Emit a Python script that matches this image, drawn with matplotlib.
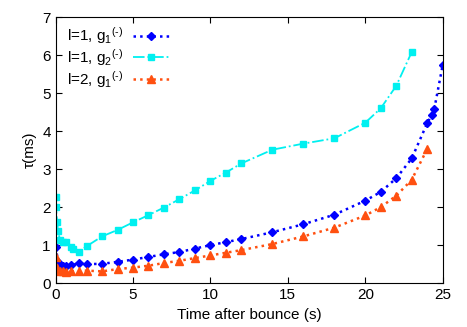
import numpy as np
import matplotlib
matplotlib.use("Agg")
import matplotlib.pyplot as plt

plt.rcParams['font.family'] = ['Liberation Sans', 'DejaVu Sans']
plt.rcParams['mathtext.fontset'] = 'custom'
plt.rcParams['mathtext.rm'] = 'Liberation Sans'
plt.rcParams['mathtext.it'] = 'Liberation Sans'

# l=1, g1 (-)
t_l1g1 = [0, 0.17, 0.3, 0.5, 0.7, 1.0, 1.5, 2, 3, 4, 5, 6, 7, 8, 9, 10, 11, 12,
          14, 16, 18, 20, 21, 22, 23, 24, 24.3, 24.45, 25]
tau_l1g1 = [0.95, 0.57, 0.48, 0.45, 0.45, 0.48, 0.52, 0.50, 0.51, 0.56, 0.62, 0.69,
            0.76, 0.82, 0.91, 1.00, 1.08, 1.16, 1.34, 1.55, 1.80, 2.17, 2.40, 2.76,
            3.28, 4.21, 4.43, 4.57, 5.74]

# l=1, g2 (-)
t_l1g2 = [0, 0.03, 0.1, 0.17, 0.28, 0.5, 0.7, 1.0, 1.14, 1.5, 2, 3, 4, 5, 6, 7, 8,
          9, 10, 11, 12, 14, 16, 18, 20, 21, 22, 23]
tau_l1g2 = [2.26, 2.0, 1.6, 1.36, 1.14, 1.08, 1.07, 0.96, 0.90, 0.83, 0.97, 1.23,
            1.40, 1.60, 1.79, 1.99, 2.21, 2.44, 2.69, 2.91, 3.15, 3.51, 3.67, 3.81,
            4.22, 4.60, 5.19, 6.08]

# l=2, g1 (-)
t_l2g1 = [0, 0.1, 0.28, 0.5, 0.7, 1.0, 1.5, 2, 3, 4, 5, 6, 7, 8, 9, 10, 11, 12,
          14, 16, 18, 20, 21, 22, 23, 24]
tau_l2g1 = [0.68, 0.39, 0.33, 0.31, 0.30, 0.31, 0.33, 0.33, 0.31, 0.37, 0.41, 0.46,
            0.53, 0.59, 0.66, 0.73, 0.80, 0.87, 1.03, 1.23, 1.46, 1.78, 2.00, 2.30,
            2.72, 3.53]

fig = plt.figure(figsize=(4.67, 3.27), dpi=100)
ax = fig.add_axes([0.119, 0.134, 0.829, 0.814])

ax.plot(t_l1g1, tau_l1g1, color='#0000ff', linestyle=':', linewidth=1.8,
        marker='D', markersize=4.5, label=r'l=1, g$_1$$^{\text{(-)}}$')
ax.plot(t_l1g2, tau_l1g2, color='#00f0f0', linestyle='-.', linewidth=1.3,
        marker='s', markersize=4, label=r'l=1, g$_2$$^{\text{(-)}}$')
ax.plot(t_l2g1, tau_l2g1, color='#ff5010', linestyle=':', linewidth=1.8,
        marker='^', markersize=5.5, label=r'l=2, g$_1$$^{\text{(-)}}$')

ax.set_xlim(0, 25)
ax.set_ylim(0, 7)
ax.set_xticks([0, 5, 10, 15, 20, 25])
ax.set_yticks(range(8))
ax.tick_params(direction='in', top=True, right=True, length=4, labelsize=11)
ax.set_xlabel('Time after bounce (s)', fontsize=11)
ax.set_ylabel(u'\u03c4(ms)', fontsize=11)

ax.legend(loc='upper left', bbox_to_anchor=(0.008, 1.0), frameon=False,
          markerfirst=False, fontsize=11, handlelength=2.4, handletextpad=0.6,
          labelspacing=0.05, borderaxespad=0.15)

fig.savefig('out.png', dpi=100)
